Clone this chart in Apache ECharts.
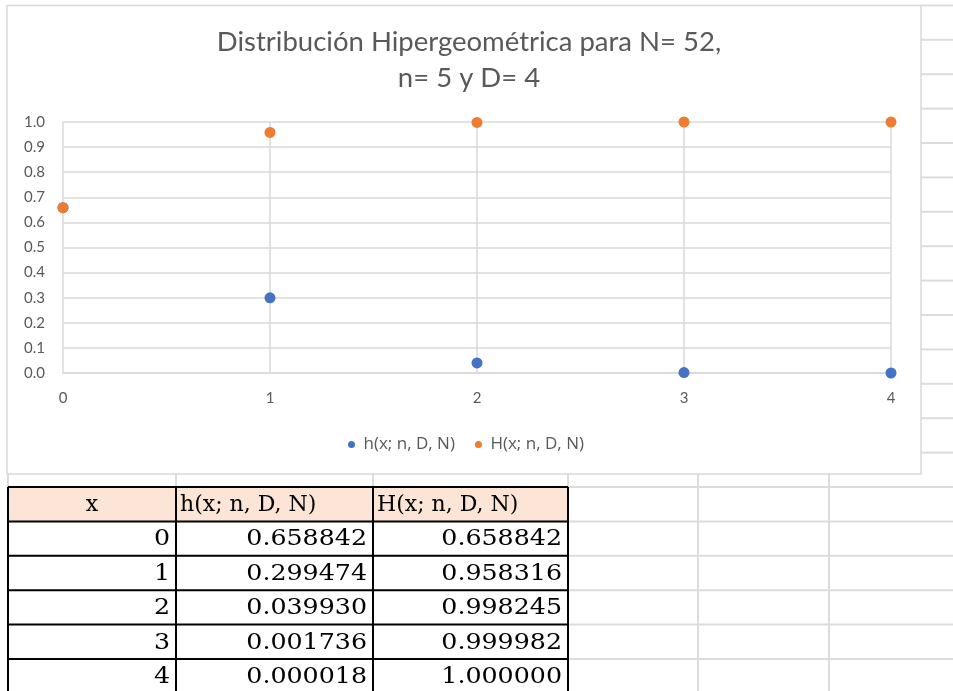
<!DOCTYPE html>
<html>
<head>
<meta charset="utf-8">
<script src="https://cdn.jsdelivr.net/npm/echarts@6/dist/echarts.min.js"></script>
<style>
html,body{margin:0;padding:0;background:#fff;}
#c{width:953px;height:691px;}
</style>
</head>
<body>
<div id="c"></div>
<script>
// ---- data ----
var xValues = [0, 1, 2, 3, 4];
var hValues = [0.658842, 0.299474, 0.039930, 0.001736, 0.000018];
var HValues = [0.658842, 0.958316, 0.998245, 0.999982, 1.000000];
var seriesNames = ['h(x; n, D, N)', 'H(x; n, D, N)'];
var tableHeaders = ['x', 'h(x; n, D, N)', 'H(x; n, D, N)'];
var titleText = 'Distribución Hipergeométrica para N= 52,\nn= 5 y D= 4';

var chart = echarts.init(document.getElementById('c'), null, {renderer: 'canvas'});

var FONT = 'Lato';
var TXT = '#595959';
var GRIDC = '#d9d9d9';
var SHEET = '#dcdcdc';

// ---- graphic: sheet gridlines, chart border, table ----
var g = [];
function line(x1, y1, x2, y2, color, w, z) {
  g.push({type: 'line', shape: {x1: x1, y1: y1, x2: x2, y2: y2}, style: {stroke: color, lineWidth: w}, z: z || 0, silent: true});
}
var rowH = 34.4;
var rowTop = 487;
for (var i = 1; i <= 14; i++) {
  var yy = rowTop - i * rowH;
  line(921, yy, 953, yy, SHEET, 2);
}
var colX = [8, 176, 373, 568, 698, 829];
for (var r = 0; r < 6; r++) {
  var y = rowTop + r * rowH;
  line(568, y, 953, y, SHEET, 2);
}
for (var k = 0; k < colX.length; k++) {
  line(colX[k], 474, colX[k], k >= 4 ? 691 : rowTop, SHEET, 2);
}
g.push({type: 'rect', shape: {x: 7, y: 5.5, width: 914, height: 468.5}, style: {fill: null, stroke: '#d9d9d9', lineWidth: 1.5}, z: 0, silent: true});

// table
var tCols = [8, 176, 373, 568];
g.push({type: 'rect', shape: {x: 8, y: rowTop, width: 560, height: rowH}, style: {fill: '#FCE4D6'}, z: 1});
var TF = '"DejaVu Serif"';
var tableFont = '22px ' + TF;
g.push({type: 'text', x: (tCols[0] + tCols[1]) / 2, y: rowTop + rowH / 2 + 1, style: {text: tableHeaders[0], font: tableFont, fill: '#000', textAlign: 'center', textVerticalAlign: 'middle'}, z: 3});
g.push({type: 'text', x: tCols[1] + 4, y: rowTop + rowH / 2 + 1, style: {text: tableHeaders[1], font: tableFont, fill: '#000', textAlign: 'left', textVerticalAlign: 'middle'}, z: 3});
g.push({type: 'text', x: tCols[2] + 4, y: rowTop + rowH / 2 + 1, style: {text: tableHeaders[2], font: tableFont, fill: '#000', textAlign: 'left', textVerticalAlign: 'middle'}, z: 3});
for (var j = 0; j < xValues.length; j++) {
  var cy = rowTop + (j + 1) * rowH + rowH / 2 + 1;
  var vals = [String(xValues[j]), hValues[j].toFixed(6), HValues[j].toFixed(6)];
  for (var c = 0; c < 3; c++) {
    g.push({type: 'text', x: tCols[c + 1] - 6, y: cy, scaleX: 1.15, style: {text: vals[c], font: tableFont, fill: '#000', textAlign: 'right', textVerticalAlign: 'middle'}, z: 3});
  }
}
for (var rr = 0; rr <= 6; rr++) {
  line(8, rowTop + rr * rowH, 568, rowTop + rr * rowH, '#000', 2, 2);
}
for (var cc = 0; cc < tCols.length; cc++) {
  line(tCols[cc], rowTop, tCols[cc], 691, '#000', 2, 2);
}

var option = {
  animation: false,
  backgroundColor: '#fff',
  title: {
    text: titleText,
    left: 464,
    top: 19,
    textAlign: 'center',
    textStyle: {fontFamily: FONT, fontSize: 27.5, fontWeight: 400, color: TXT, lineHeight: 36}
  },
  legend: {
    left: 343,
    top: 431,
    itemWidth: 14,
    itemHeight: 7,
    itemGap: 20,
    icon: 'circle',
    textStyle: {fontFamily: 'Open Sans', fontSize: 17, color: TXT},
    data: seriesNames
  },
  grid: {left: 63, right: 62, top: 122, bottom: 318, containLabel: false},
  xAxis: {
    type: 'value', min: 0, max: 4, interval: 1,
    axisLine: {show: true, lineStyle: {color: GRIDC, width: 1.5}},
    axisTick: {show: false},
    splitLine: {show: true, lineStyle: {color: GRIDC, width: 1.5}},
    axisLabel: {fontFamily: FONT, fontSize: 15, color: TXT, margin: 18}
  },
  yAxis: {
    type: 'value', min: 0, max: 1, interval: 0.1,
    axisLine: {show: false},
    axisTick: {show: false},
    splitLine: {show: true, lineStyle: {color: GRIDC, width: 1.5}},
    axisLabel: {fontFamily: FONT, fontSize: 15, color: TXT, margin: 18, formatter: function (v) { return v.toFixed(1); }}
  },
  series: [
    {name: seriesNames[0], type: 'scatter', symbolSize: 11, clip: false, itemStyle: {color: '#4472C4', opacity: 1},
     data: xValues.map(function (x, i) { return [x, hValues[i]]; })},
    {name: seriesNames[1], type: 'scatter', symbolSize: 11, clip: false, itemStyle: {color: '#ED7D31', opacity: 1},
     data: xValues.map(function (x, i) { return [x, HValues[i]]; })}
  ],
  graphic: {elements: g}
};
chart.setOption(option);
</script>
</body>
</html>
